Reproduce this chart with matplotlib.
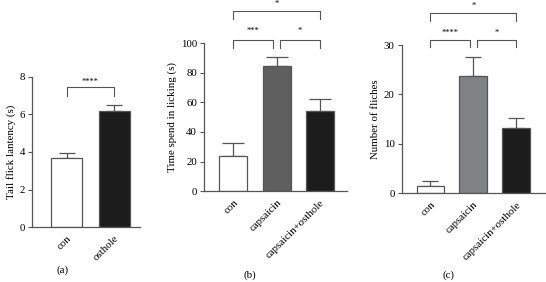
import matplotlib
matplotlib.use('Agg')
from matplotlib import pyplot as plt

plt.rcParams['font.family'] = ['Liberation Serif', 'DejaVu Serif']

# panel (a)
a_groups = ['con', 'osthole']
a_means = [3.7, 6.2]
a_err = [0.27, 0.32]
a_colors = ['#ffffff', '#1c1c1c']

# panel (b)
b_groups = ['con', 'capsaicin', 'capsaicin+osthole']
b_means = [23.5, 84.5, 54.5]
b_err = [9.0, 6.0, 8.0]
b_colors = ['#ffffff', '#5f5f5f', '#1c1c1c']

# panel (c)
c_groups = ['con', 'capsaicin', 'capsaicin+osthole']
c_means = [1.5, 23.7, 13.3]
c_err = [0.9, 3.8, 1.9]
c_colors = ['#ffffff', '#808182', '#1c1c1c']

line_col = '#555555'
fs = 7.8

fig = plt.figure(figsize=(5.46, 2.82), dpi=100)


def bar_panel(rect, groups, means, err, colors, ylim, yticks, ylabel, xlim, capsize):
    ax = fig.add_axes(rect)
    x = list(range(len(groups)))
    ax.bar(x, means, width=0.65, color=colors, edgecolor=line_col, linewidth=0.9, zorder=2)
    ax.errorbar(x, means, yerr=[[0] * len(err), err], fmt='none', ecolor=line_col,
                elinewidth=0.9, capsize=capsize, capthick=0.9, zorder=1)
    ax.set_xlim(*xlim)
    ax.set_ylim(*ylim)
    ax.set_yticks(yticks)
    ax.set_xticks(x)
    ax.set_xticklabels(groups, rotation=45, ha='right', rotation_mode='anchor', fontsize=fs)
    ax.tick_params(axis='y', labelsize=fs, length=3, width=0.8, color=line_col, pad=2)
    ax.tick_params(axis='x', length=0, pad=5)
    for s in ['top', 'right']:
        ax.spines[s].set_visible(False)
    for s in ['left', 'bottom']:
        ax.spines[s].set_color(line_col)
        ax.spines[s].set_linewidth(0.9)
    ax.set_ylabel(ylabel, fontsize=fs, labelpad=3)
    return ax


def bracket(ax, x0, x1, y, drop, text, ty):
    ax.plot([x0, x0, x1, x1], [y - drop, y, y, y - drop], color=line_col, lw=0.8, clip_on=False)
    ax.text((x0 + x1) / 2, ty, text, ha='center', va='center', fontsize=6, clip_on=False)


ax_a = bar_panel([0.0592, 0.195, 0.197, 0.532], a_groups, a_means, a_err, a_colors,
                 (0, 8), [0, 2, 4, 6, 8], 'Tail flick lantency (s)', (-0.72, 1.54), 6)
bracket(ax_a, 0, 1, 7.47, 0.5, '****', 7.72)

ax_b = bar_panel([0.3736, 0.322, 0.262, 0.525], b_groups, b_means, b_err, b_colors,
                 (0, 100), [0, 20, 40, 60, 80, 100], 'Time spend in licking (s)', (-0.68, 2.63), 8)
bracket(ax_b, 0, 0.92, 102, 5, '***', 108.5)
bracket(ax_b, 1.08, 2, 102, 5, '*', 108.5)
bracket(ax_b, 0, 2, 122, 6, '*', 126.3)

ax_c = bar_panel([0.7357, 0.315, 0.262, 0.525], c_groups, c_means, c_err, c_colors,
                 (0, 30), [0, 10, 20, 30], 'Number of fliches', (-0.67, 2.66), 6)
bracket(ax_c, 0, 0.92, 31.0, 1.3, '****', 32.4)
bracket(ax_c, 1.08, 2, 31.0, 1.3, '*', 32.4)
bracket(ax_c, 0, 2, 36.6, 1.7, '*', 38.0)

fig.text(0.114, 0.043, '(a)', ha='center', va='center', fontsize=fs)
fig.text(0.458, 0.025, '(b)', ha='center', va='center', fontsize=fs)
fig.text(0.822, 0.025, '(c)', ha='center', va='center', fontsize=fs)

fig.savefig('out.png', dpi=100)
